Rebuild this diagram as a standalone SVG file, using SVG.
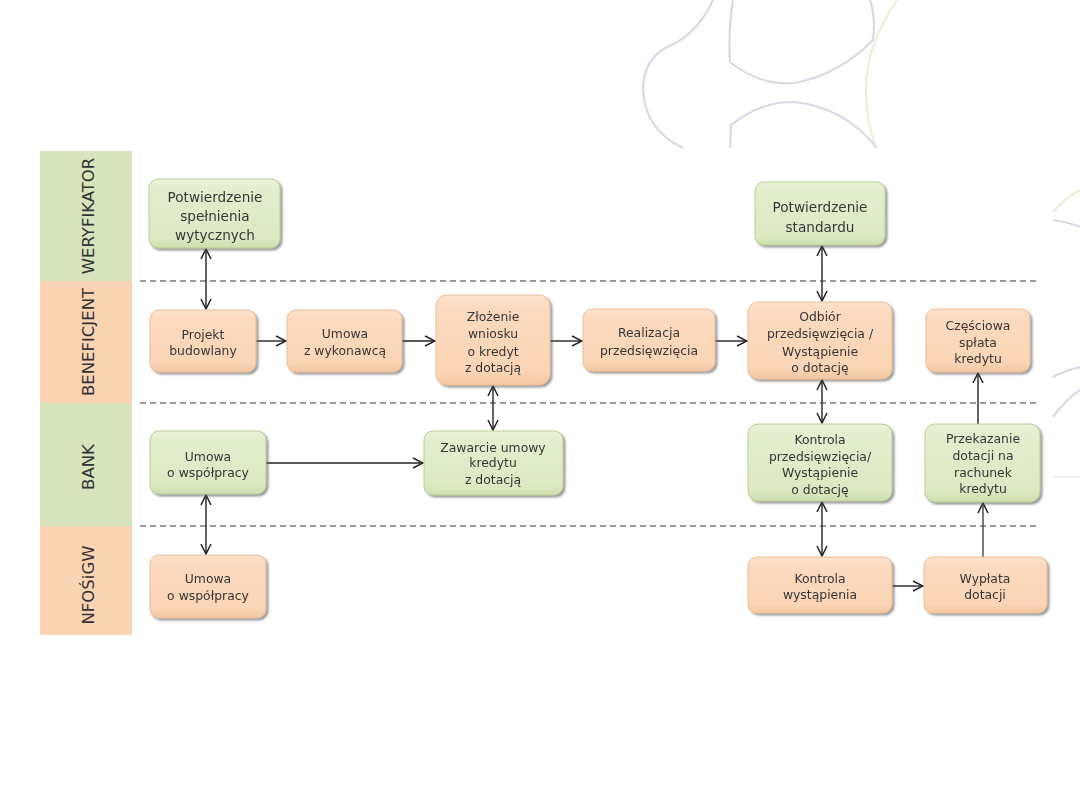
<svg xmlns="http://www.w3.org/2000/svg" width="1080" height="810" viewBox="0 0 1080 810">
<defs>
<style>
.deco{fill:none;stroke:#d9d9e6;stroke-width:2.2}
.decog{fill:none;stroke:#e6f0d6;stroke-width:2}
.lane-g{fill:#d7e4bd}
.lane-p{fill:#fbd4b4}
.lane-t{font-family:"DejaVu Sans",sans-serif;font-size:16.5px;fill:#333;text-anchor:middle}
.sep{stroke:#7a7a7a;stroke-width:1.5;stroke-dasharray:6 4;fill:none}
.bp{fill:url(#gp);stroke:#e9bd96;stroke-width:1}
.bg{fill:url(#gg);stroke:#b9ce92;stroke-width:1}
.t{font-family:"DejaVu Sans",sans-serif;font-size:12.4px;fill:#363636;text-anchor:middle}
.tw{font-family:"DejaVu Sans",sans-serif;font-size:13.6px;fill:#363636;text-anchor:middle}
.c{stroke:#222;stroke-width:1.4;fill:none}
</style>
<linearGradient id="gp" x1="0" y1="0" x2="0" y2="1">
<stop offset="0" stop-color="#fde2cc"/><stop offset="0.15" stop-color="#fcdac0"/><stop offset="0.85" stop-color="#fbd5b5"/><stop offset="1" stop-color="#f3c7a2"/>
</linearGradient>
<linearGradient id="gg" x1="0" y1="0" x2="0" y2="1">
<stop offset="0" stop-color="#ebf3d9"/><stop offset="0.15" stop-color="#e3eecd"/><stop offset="0.85" stop-color="#dde9c3"/><stop offset="1" stop-color="#cfdfb0"/>
</linearGradient>
<filter id="sh" x="-10%" y="-10%" width="125%" height="130%">
<feDropShadow dx="2" dy="2" stdDeviation="1.3" flood-color="#555" flood-opacity="0.6"/>
</filter>
<marker id="ah" viewBox="0 0 12 12" refX="11" refY="6" markerWidth="12" markerHeight="12" markerUnits="userSpaceOnUse" orient="auto-start-reverse">
<path d="M1,1 L11,6 L1,11" fill="none" stroke="#222" stroke-width="1.5"/>
</marker>
</defs>
<rect width="1080" height="810" fill="#fff"/>
<g id="decoration">
<path class="deco" d="M713,0 Q697,35 667,47 Q643,60 643,90 Q645,130 683,148"/>
<path class="deco" d="M733,0 Q728,30 730,62 Q760,86 795,83 Q840,74 873,40 Q876,18 870,0"/>
<path class="deco" d="M730,148 L731,125 Q760,102 793,102 Q843,106 877,148"/>
<path class="decog" d="M897,0 Q866,45 866,90 Q866,125 877,148"/>
<path class="decog" d="M1053,212 Q1065,198 1080,190"/>
<path class="deco" d="M1053,220 Q1068,222 1080,227"/>
<path class="deco" d="M1053,377 Q1066,370 1080,367"/>
<path class="deco" d="M1053,417 Q1065,400 1080,390"/>
<path d="M1053,477 L1080,477" stroke="#e4e4e4" stroke-width="1.2"/>
</g>
<g id="lanes">
<rect class="lane-g" x="40" y="151" width="92" height="130"/>
<rect class="lane-p" x="40" y="281" width="92" height="122"/>
<rect class="lane-g" x="40" y="403" width="92" height="123"/>
<rect class="lane-p" x="40" y="526" width="92" height="109"/>
<text class="lane-t" transform="translate(94,216) rotate(-90)">WERYFIKATOR</text>
<text class="lane-t" transform="translate(94,342) rotate(-90)">BENEFICJENT</text>
<text class="lane-t" transform="translate(94,467) rotate(-90)">BANK</text>
<text class="lane-t" transform="translate(94,585) rotate(-90)">NFOŚiGW</text>
</g>
<g id="separators">
<line class="sep" x1="140" y1="281" x2="1037" y2="281"/>
<line class="sep" x1="140" y1="403" x2="1037" y2="403"/>
<line class="sep" x1="140" y1="526" x2="1037" y2="526"/>
</g>
<g id="connectors">
<line class="c" x1="206" y1="249" x2="206" y2="309" marker-start="url(#ah)" marker-end="url(#ah)"/>
<line class="c" x1="256" y1="341" x2="286" y2="341" marker-end="url(#ah)"/>
<line class="c" x1="402" y1="341" x2="435" y2="341" marker-end="url(#ah)"/>
<line class="c" x1="550" y1="341" x2="582" y2="341" marker-end="url(#ah)"/>
<line class="c" x1="715" y1="341" x2="747" y2="341" marker-end="url(#ah)"/>
<line class="c" x1="493" y1="386" x2="493" y2="430" marker-start="url(#ah)" marker-end="url(#ah)"/>
<line class="c" x1="266" y1="463" x2="423" y2="463" marker-end="url(#ah)"/>
<line class="c" x1="206" y1="495" x2="206" y2="554" marker-start="url(#ah)" marker-end="url(#ah)"/>
<line class="c" x1="822" y1="246" x2="822" y2="301" marker-start="url(#ah)" marker-end="url(#ah)"/>
<line class="c" x1="822" y1="380" x2="822" y2="423" marker-start="url(#ah)" marker-end="url(#ah)"/>
<line class="c" x1="822" y1="502" x2="822" y2="556" marker-start="url(#ah)" marker-end="url(#ah)"/>
<line class="c" x1="892" y1="586" x2="923" y2="586" marker-end="url(#ah)"/>
<line class="c" x1="983" y1="557" x2="983" y2="503" marker-end="url(#ah)" style="stroke:#444"/>
<line class="c" x1="978" y1="424" x2="978" y2="373" marker-end="url(#ah)"/>
</g>
<g id="n-potw-wyt" filter="url(#sh)">
<rect class="bg" x="149" y="179" width="131" height="69" rx="9"/>
<text class="tw" x="215" y="202">Potwierdzenie</text>
<text class="tw" x="215" y="221">spełnienia</text>
<text class="tw" x="215" y="240">wytycznych</text>
</g>
<g id="n-projekt" filter="url(#sh)">
<rect class="bp" x="150" y="310" width="106" height="62" rx="9"/>
<text class="t" x="203" y="339">Projekt</text>
<text class="t" x="203" y="355">budowlany</text>
</g>
<g id="n-umowa-wyk" filter="url(#sh)">
<rect class="bp" x="287" y="310" width="115" height="62" rx="9"/>
<text class="t" x="345" y="338">Umowa</text>
<text class="t" x="345" y="355">z wykonawcą</text>
</g>
<g id="n-zlozenie" filter="url(#sh)">
<rect class="bp" x="436" y="295" width="114" height="90" rx="11"/>
<text class="t" x="493" y="321">Złożenie</text>
<text class="t" x="493" y="338">wniosku</text>
<text class="t" x="493" y="356">o kredyt</text>
<text class="t" x="493" y="372">z dotacją</text>
</g>
<g id="n-realizacja" filter="url(#sh)">
<rect class="bp" x="583" y="309" width="132" height="62" rx="9"/>
<text class="t" x="649" y="337">Realizacja</text>
<text class="t" x="649" y="355">przedsięwzięcia</text>
</g>
<g id="n-odbior" filter="url(#sh)">
<rect class="bp" x="748" y="302" width="144" height="77" rx="10"/>
<text class="t" x="820" y="321">Odbiór</text>
<text class="t" x="820" y="338">przedsięwzięcia /</text>
<text class="t" x="820" y="356">Wystąpienie</text>
<text class="t" x="820" y="372">o dotację</text>
</g>
<g id="n-splata" filter="url(#sh)">
<rect class="bp" x="926" y="309" width="104" height="63" rx="9"/>
<text class="t" x="978" y="330">Częściowa</text>
<text class="t" x="978" y="347">spłata</text>
<text class="t" x="978" y="363">kredytu</text>
</g>
<g id="n-potw-std" filter="url(#sh)">
<rect class="bg" x="755" y="182" width="130" height="63" rx="9"/>
<text class="tw" x="820" y="212">Potwierdzenie</text>
<text class="tw" x="820" y="232">standardu</text>
</g>
<g id="n-umowa-bank" filter="url(#sh)">
<rect class="bg" x="150" y="431" width="116" height="63" rx="9"/>
<text class="t" x="208" y="461">Umowa</text>
<text class="t" x="208" y="477">o współpracy</text>
</g>
<g id="n-zawarcie" filter="url(#sh)">
<rect class="bg" x="424" y="431" width="139" height="64" rx="9"/>
<text class="t" x="493" y="452">Zawarcie umowy</text>
<text class="t" x="493" y="467">kredytu</text>
<text class="t" x="493" y="484">z dotacją</text>
</g>
<g id="n-kontrola-przed" filter="url(#sh)">
<rect class="bg" x="748" y="424" width="144" height="77" rx="10"/>
<text class="t" x="820" y="444">Kontrola</text>
<text class="t" x="820" y="461">przedsięwzięcia/</text>
<text class="t" x="820" y="477">Wystąpienie</text>
<text class="t" x="820" y="494">o dotację</text>
</g>
<g id="n-przekazanie" filter="url(#sh)">
<rect class="bg" x="925" y="424" width="115" height="78" rx="10"/>
<text class="t" x="983" y="443">Przekazanie</text>
<text class="t" x="983" y="460">dotacji na</text>
<text class="t" x="983" y="477">rachunek</text>
<text class="t" x="983" y="493">kredytu</text>
</g>
<g id="n-umowa-nfos" filter="url(#sh)">
<rect class="bp" x="150" y="555" width="116" height="63" rx="9"/>
<text class="t" x="208" y="583">Umowa</text>
<text class="t" x="208" y="600">o współpracy</text>
</g>
<g id="n-kontrola-wyst" filter="url(#sh)">
<rect class="bp" x="748" y="557" width="144" height="56" rx="9"/>
<text class="t" x="820" y="583">Kontrola</text>
<text class="t" x="820" y="599">wystąpienia</text>
</g>
<g id="n-wyplata" filter="url(#sh)">
<rect class="bp" x="924" y="557" width="123" height="56" rx="9"/>
<text class="t" x="985" y="583">Wypłata</text>
<text class="t" x="985" y="599">dotacji</text>
</g>
</svg>
